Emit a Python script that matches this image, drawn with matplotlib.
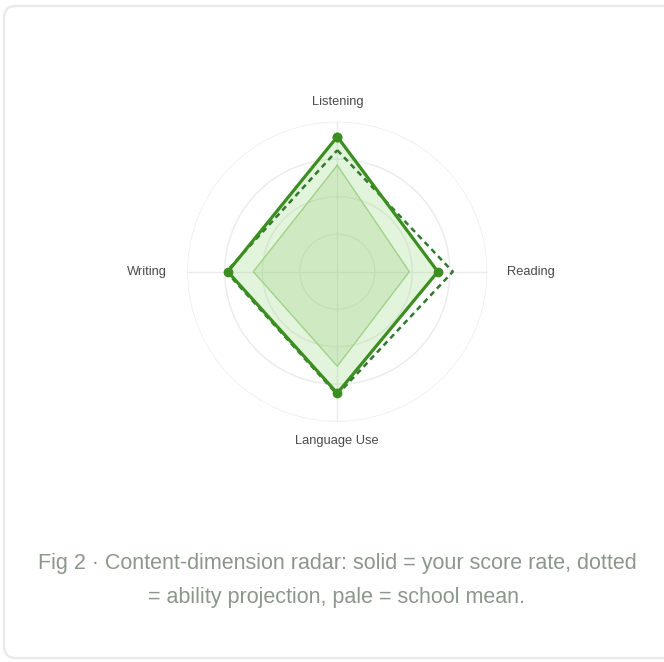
import numpy as np
import matplotlib
matplotlib.use("Agg")
import matplotlib.pyplot as plt
from matplotlib.patches import FancyBboxPatch

plt.rcParams['font.family'] = ['Liberation Sans', 'DejaVu Sans']

categories = ["Listening", "Reading", "Language Use", "Writing"]
score_rate = [90, 67, 81, 73]
ability_projection = [81, 77, 82, 74]
school_mean = [71, 48, 63, 56]
ring_levels = [25, 50, 75, 100]
caption = ("Fig 2 · Content-dimension radar: solid = your score rate, dotted\n"
           "= ability projection, pale = school mean.")

W, H = 664, 662
fig = plt.figure(figsize=(W / 100, H / 100), dpi=100)
fig.patch.set_facecolor('white')

# card
card = FancyBboxPatch((4 / W, 4 / H), (W + 30) / W, (H - 10) / H,
                      boxstyle="round,pad=0,rounding_size=0.018",
                      transform=fig.transFigure, facecolor='white',
                      edgecolor='#e9e9e7', linewidth=1.6, zorder=-10)
fig.patches.append(card)

cx, cy, R = 337.3, 271.7, 150
ax = fig.add_axes([(cx - R) / W, (H - cy - R) / H, 2 * R / W, 2 * R / H],
                  projection='polar')
ax.set_zorder(5)
ax.set_facecolor('none')
ax.set_theta_zero_location('N')
ax.set_theta_direction(-1)
ax.set_ylim(0, 100)
ax.spines['polar'].set_visible(False)
ax.grid(False)
ax.set_xticks([])
ax.set_yticks([])

n = len(categories)
angles = np.arange(n) * 2 * np.pi / n
th = np.linspace(0, 2 * np.pi, 361)
grid_c = '#ebebeb'
for lv in ring_levels:
    ax.plot(th, np.full_like(th, lv), color=grid_c, lw=1.0, zorder=1)
for a in angles:
    ax.plot([a, a], [0, 100], color=grid_c, lw=1.0, zorder=1)

ang_c = np.concatenate([angles, angles[:1]])
def closed(v):
    return np.concatenate([v, v[:1]])

# score fill
ax.fill(ang_c, closed(np.array(score_rate, float)), color='#8fd773', alpha=0.25,
        lw=0, zorder=2)
# school mean
ax.fill(ang_c, closed(np.array(school_mean, float)), color='#a4d489', alpha=0.3,
        lw=0, zorder=3)
ax.plot(ang_c, closed(np.array(school_mean, float)), color='#9fd287', lw=1.0,
        zorder=3)
# ability projection dotted
ax.plot(ang_c, closed(np.array(ability_projection, float)), color='#2e7a2a',
        lw=1.8, ls=(0, (2.2, 1.7)), zorder=4)
# score solid
ax.plot(ang_c, closed(np.array(score_rate, float)), color='#3b8e1f', lw=2.3,
        marker='o', ms=6, zorder=5)

# labels
for a, name in zip(angles, categories):
    s, c = np.sin(a), np.cos(a)
    vertical = abs(c) > 0.5
    lab_r = 100 + (13.5 if vertical else 20) / R * 100
    ha = 'center' if abs(s) < 0.1 else ('left' if s > 0 else 'right')
    va = 'center' if abs(c) < 0.1 else ('bottom' if c > 0 else 'top')
    ax.text(a, lab_r, name, ha=ha, va=va, fontsize=9.3, color='#4a4a4a',
            zorder=6, clip_on=False)

fig.text(337 / W, 1 - 580.5 / H, caption, ha='center', va='center',
         fontsize=15.5, color='#8c978b', linespacing=1.85)

fig.savefig('out.png', dpi=100, facecolor='white')
